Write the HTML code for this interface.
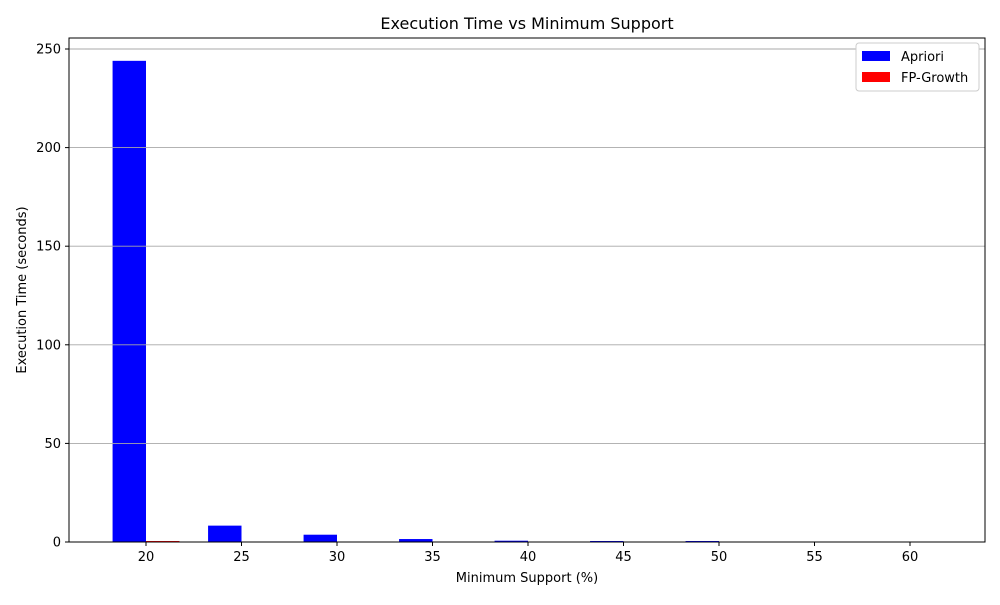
<!DOCTYPE html>
<html><head><meta charset="utf-8"><style>
body{margin:0;background:#fff;font-family:"Liberation Sans","DejaVu Sans",sans-serif}
svg text{font-family:"DejaVu Sans","Liberation Sans",sans-serif}
</style></head><body>
<svg id="chart" width="1000" height="600" xmlns="http://www.w3.org/2000/svg">
<rect width="1000" height="600" fill="#fff"/>
<text x="527" y="29" font-size="16" text-anchor="middle">Execution Time vs Minimum Support</text>
<g id="bars"></g><g id="grid"></g><g id="axes"></g>
<rect x="69" y="38" width="916" height="504" fill="none" stroke="#000" stroke-width="1"/>
<text x="527" y="582" font-size="13" text-anchor="middle">Minimum Support (%)</text>
<text transform="translate(26,290) rotate(-90)" font-size="13" text-anchor="middle">Execution Time (seconds)</text>
<g>
<rect x="856" y="43" width="123" height="48" fill="#fff" stroke="#ccc" rx="3"/>
<rect x="862" y="51" width="28" height="10" fill="#0000ff"/>
<text x="901" y="61" font-size="13">Apriori</text>
<rect x="862" y="72" width="28" height="10" fill="#ff0000"/>
<text x="901" y="82" font-size="13">FP-Growth</text>
</g>
</svg>
<script>
const categories=[20,25,30,35,40,45,50,55,60];
const apriori=[244,8.3,3.7,1.5,0.65,0.5,0.5,0.1,0.1];
const fpgrowth=[0.5,0.1,0.1,0.05,0.05,0.05,0.05,0.02,0.02];
const yTicks=[0,50,100,150,200,250];
const xTicks=[20,25,30,35,40,45,50,55,60];
const NS="http://www.w3.org/2000/svg";
const x=v=>146+(v-20)*19.1;
const y=v=>542-v*1.972;
const bw=1.75*19.1;
function mk(t,a,p){const e=document.createElementNS(NS,t);for(const k in a)e.setAttribute(k,a[k]);p.appendChild(e);return e;}
const grid=document.getElementById('grid'),bars=document.getElementById('bars'),axes=document.getElementById('axes');
yTicks.forEach(t=>{
 const g=mk('line',{x1:69,x2:985,y1:y(t),y2:y(t),stroke:'#a8a8a8','stroke-width':0.9},grid);
 
 
 const tk=mk('line',{x1:65,x2:69,y1:y(t),y2:y(t),stroke:'#000'},axes);
 
 
 const l=mk('text',{x:61,y:y(t)+4.5,'font-size':13,'text-anchor':'end'},axes);
 l.textContent=t;
 
 
});
xTicks.forEach(t=>{
 const tk=mk('line',{x1:x(t),x2:x(t),y1:542,y2:546,stroke:'#000'},axes);
 
 
 const l=mk('text',{x:x(t),y:561,'font-size':13,'text-anchor':'middle'},axes);
 l.textContent=t;
 
 
});
categories.forEach((c,i)=>{
 const a=mk('rect',{x:x(c)-bw,y:y(apriori[i]),width:bw,height:542-y(apriori[i]),fill:'#0000ff'},bars);
 
 
 const f=mk('rect',{x:x(c),y:y(fpgrowth[i]),width:bw,height:542-y(fpgrowth[i]),fill:'#ff0000'},bars);
 
 
});
</script>
</body></html>
